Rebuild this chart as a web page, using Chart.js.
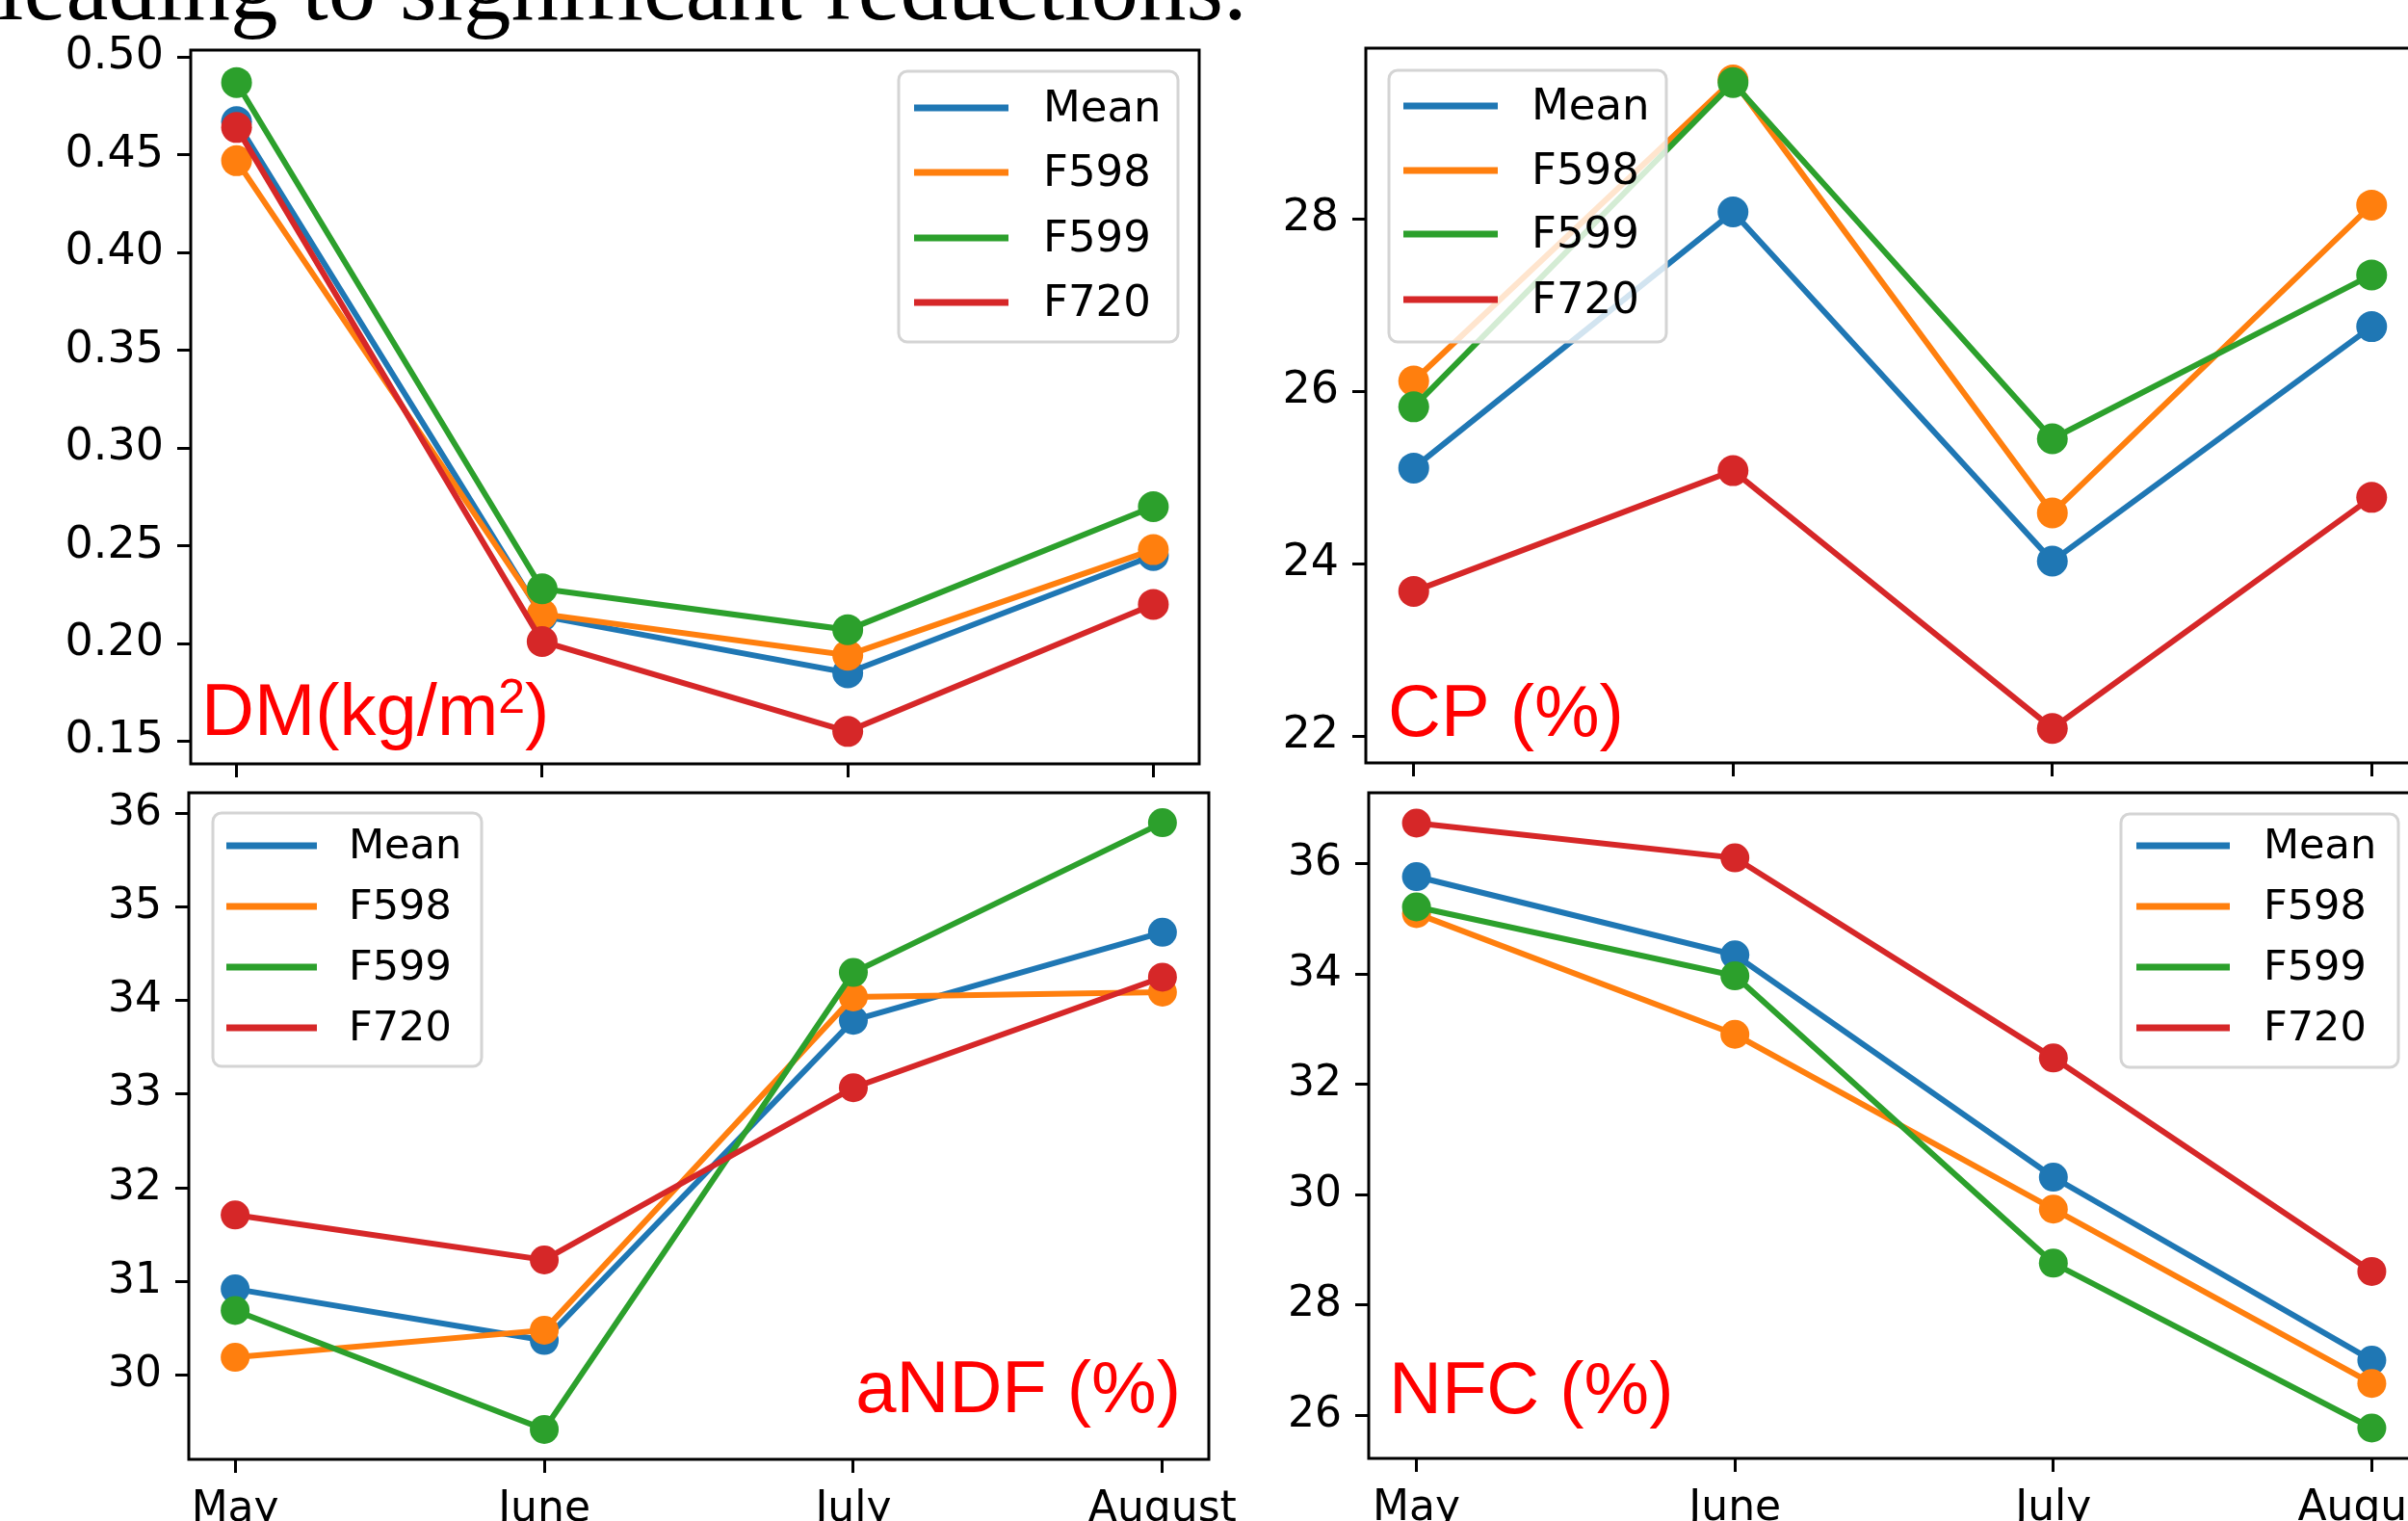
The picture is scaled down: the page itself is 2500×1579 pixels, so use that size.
<!DOCTYPE html>
<html lang="en">
<head>
<meta charset="UTF-8">
<title>Forage quality by month</title>
<script src="https://cdn.jsdelivr.net/npm/chart.js@4.4.0/dist/chart.umd.min.js"></script>
<style>
  html, body { margin: 0; padding: 0; background: #fff; }
  body { width: 2500px; height: 1579px; position: relative; overflow: hidden; }
  canvas { position: absolute; }
  #caption { position: absolute; left: -3px; top: -63px; font-family: "Liberation Serif", "Times New Roman", serif;
             font-size: 99px; line-height: 99px; color: #000; white-space: nowrap; }
</style>
</head>
<body>
<div id="caption">leading to significant reductions.</div>
<canvas id="dm"></canvas>
<canvas id="cp"></canvas>
<canvas id="ndf"></canvas>
<canvas id="nfc"></canvas>
<script>
// data
const months = ['May', 'June', 'July', 'August'];
const seriesNames = ['Mean', 'F598', 'F599', 'F720'];
const colors = ['#1f77b4', '#ff7f0e', '#2ca02c', '#d62728'];

const dmMean = [0.467, 0.214, 0.185, 0.245];
const dmF598 = [0.447, 0.215, 0.194, 0.248];
const dmF599 = [0.487, 0.228, 0.207, 0.270];
const dmF720 = [0.464, 0.201, 0.155, 0.220];
const dmTicks = [0.15, 0.20, 0.25, 0.30, 0.35, 0.40, 0.45, 0.50];

const cpMean = [25.11, 28.08, 24.03, 26.75];
const cpF598 = [26.12, 29.61, 24.59, 28.16];
const cpF599 = [25.82, 29.58, 25.45, 27.35];
const cpF720 = [23.68, 25.08, 22.09, 24.77];
const cpTicks = [22, 24, 26, 28];

const ndfMean = [30.92, 30.37, 33.79, 34.73];
const ndfF598 = [30.19, 30.48, 34.04, 34.09];
const ndfF599 = [30.69, 29.42, 34.30, 35.90];
const ndfF720 = [31.71, 31.23, 33.07, 34.25];
const ndfTicks = [30, 31, 32, 33, 34, 35, 36];

const nfcMean = [35.77, 34.35, 30.32, 27.00];
const nfcF598 = [35.10, 32.91, 29.74, 26.58];
const nfcF599 = [35.22, 33.97, 28.76, 25.77];
const nfcF720 = [36.74, 36.11, 32.48, 28.61];
const nfcTicks = [26, 28, 30, 32, 34, 36];

Chart.defaults.font.family = "'DejaVu Sans', sans-serif";
Chart.defaults.color = '#000';

// frame, red panel label and legend box
const deco = {
  id: 'deco',
  afterDatasetsDraw(chart) {
    const o = chart.options.plugins.deco;
    const ctx = chart.ctx, a = chart.chartArea;
    const ox = o.origin[0], oy = o.origin[1];
    ctx.save();
    ctx.strokeStyle = '#000';
    ctx.lineWidth = 3;
    ctx.strokeRect(a.left, a.top, a.right - a.left, a.bottom - a.top);

    // panel label
    ctx.fillStyle = '#ff0000';
    ctx.textBaseline = 'alphabetic';
    ctx.textAlign = 'left';
    let total = 0;
    o.label.parts.forEach(p => {
      ctx.font = p.size + "px 'Liberation Sans', Arial, sans-serif";
      total += ctx.measureText(p.text).width;
    });
    let x = (o.label.align === 'right' ? o.label.x - total : o.label.x) - ox;
    o.label.parts.forEach(p => {
      ctx.font = p.size + "px 'Liberation Sans', Arial, sans-serif";
      ctx.fillText(p.text, x, o.label.y - oy + (p.dy || 0));
      x += ctx.measureText(p.text).width;
    });

    // legend
    const lg = o.legend;
    ctx.beginPath();
    ctx.roundRect(lg.box[0] - ox, lg.box[1] - oy, lg.box[2] - lg.box[0], lg.box[3] - lg.box[1], 9);
    ctx.fillStyle = 'rgba(255,255,255,0.8)';
    ctx.fill();
    ctx.strokeStyle = '#d4d4d4';
    ctx.lineWidth = 3;
    ctx.stroke();
    ctx.font = lg.font + "px 'DejaVu Sans', sans-serif";
    ctx.textBaseline = 'middle';
    ctx.lineCap = 'butt';
    chart.data.datasets.forEach((ds, i) => {
      const y = lg.rows[i] - oy;
      ctx.strokeStyle = ds.borderColor;
      ctx.lineWidth = 7;
      ctx.beginPath();
      ctx.moveTo(lg.line[0] - ox, y);
      ctx.lineTo(lg.line[1] - ox, y);
      ctx.stroke();
      ctx.fillStyle = '#000';
      ctx.fillText(ds.label, lg.textX - ox, y + 2);
    });
    ctx.restore();
  }
};

function noPad(s) {
  s.paddingTop = 0; s.paddingBottom = 0; s.paddingLeft = 0; s.paddingRight = 0;
}

function makePanel(id, p) {
  const padTop = 40, padRight = 80;
  const left = p.frame[0] - p.yWidth, top = p.frame[1] - padTop;
  const width = p.frame[2] - left + padRight;
  const height = padTop + (p.frame[3] - p.frame[1]) + p.xHeight;
  const cv = document.getElementById(id);
  cv.style.left = left + 'px';
  cv.style.top = top + 'px';
  cv.width = width;
  cv.height = height;

  const datasets = p.values.map((vals, i) => ({
    label: seriesNames[i],
    data: vals.map((v, k) => ({ x: k, y: v })),
    borderColor: colors[i],
    backgroundColor: colors[i],
    pointBackgroundColor: colors[i],
    pointBorderWidth: 0,
    pointRadius: p.radius,
    borderWidth: 6,
    tension: 0,
    clip: false,
    order: 3 - i
  }));

  new Chart(cv, {
    type: 'line',
    data: { datasets },
    options: {
      responsive: false,
      animation: false,
      devicePixelRatio: 1,
      layout: { autoPadding: false, padding: { top: padTop, right: padRight, left: 0, bottom: 0 } },
      plugins: {
        legend: { display: false },
        tooltip: { enabled: false },
        deco: { origin: [left, top], label: p.label, legend: p.legend }
      },
      scales: {
        x: {
          type: 'linear',
          min: -0.15,
          max: 3.15,
          afterFit: s => { s.height = p.xHeight; noPad(s); },
          afterBuildTicks: s => { s.ticks = months.map((m, k) => ({ value: k })); },
          border: { display: false },
          grid: { drawOnChartArea: false, drawTicks: true, tickLength: 14, tickWidth: 3, tickColor: '#000' },
          ticks: {
            display: p.showX,
            autoSkip: false,
            maxRotation: 0,
            padding: 12,
            font: { size: p.tickFont },
            callback: v => months[v]
          }
        },
        y: {
          type: 'linear',
          min: p.yRange[0],
          max: p.yRange[1],
          afterFit: s => { s.width = p.yWidth; noPad(s); },
          afterBuildTicks: s => { s.ticks = p.ticks.map(v => ({ value: v })); },
          border: { display: false },
          grid: { drawOnChartArea: false, drawTicks: true, tickLength: 14, tickWidth: 3, tickColor: '#000' },
          ticks: {
            padding: 14,
            font: { size: p.tickFont },
            callback: v => v.toFixed(p.decimals)
          }
        }
      }
    },
    plugins: [deco]
  });
}

makePanel('dm', {
  frame: [198, 52, 1245, 793], yWidth: 198, xHeight: 40, showX: false,
  values: [dmMean, dmF598, dmF599, dmF720], ticks: dmTicks, decimals: 2,
  yRange: [0.1384, 0.5036], tickFont: 46, radius: 16,
  label: { x: 209, y: 763, align: 'left', parts: [
    { text: 'DM(kg/m', size: 76 }, { text: '2', size: 50, dy: -23 }, { text: ')', size: 76 }] },
  legend: { box: [933, 74, 1223, 355], line: [949, 1047], textX: 1083, rows: [112, 179, 247, 314], font: 45 }
});

makePanel('cp', {
  frame: [1418, 50, 2512, 792], yWidth: 150, xHeight: 40, showX: false,
  values: [cpMean, cpF598, cpF599, cpF720], ticks: cpTicks, decimals: 0,
  yRange: [21.69, 29.98], tickFont: 46, radius: 16,
  label: { x: 1441, y: 764, align: 'left', parts: [{ text: 'CP (%)', size: 76 }] },
  legend: { box: [1442, 73, 1730, 355], line: [1457, 1555], textX: 1590, rows: [110, 177, 243, 311], font: 45 }
});

makePanel('ndf', {
  frame: [196, 823, 1255, 1515], yWidth: 196, xHeight: 100, showX: true,
  values: [ndfMean, ndfF598, ndfF599, ndfF720], ticks: ndfTicks, decimals: 0,
  yRange: [29.10, 36.22], tickFont: 44, radius: 15,
  label: { x: 1226, y: 1466, align: 'right', parts: [{ text: 'aNDF (%)', size: 76 }] },
  legend: { box: [221, 844, 500, 1107], line: [235, 329], textX: 362, rows: [878, 941, 1004, 1067], font: 43 }
});

makePanel('nfc', {
  frame: [1421, 823, 2512, 1514], yWidth: 150, xHeight: 100, showX: true,
  values: [nfcMean, nfcF598, nfcF599, nfcF720], ticks: nfcTicks, decimals: 0,
  yRange: [25.22, 37.29], tickFont: 44, radius: 15,
  label: { x: 1442, y: 1467, align: 'left', parts: [{ text: 'NFC (%)', size: 76 }] },
  legend: { box: [2202, 845, 2490, 1108], line: [2218, 2315], textX: 2350, rows: [878, 941, 1004, 1067], font: 43 }
});
</script>
</body>
</html>
